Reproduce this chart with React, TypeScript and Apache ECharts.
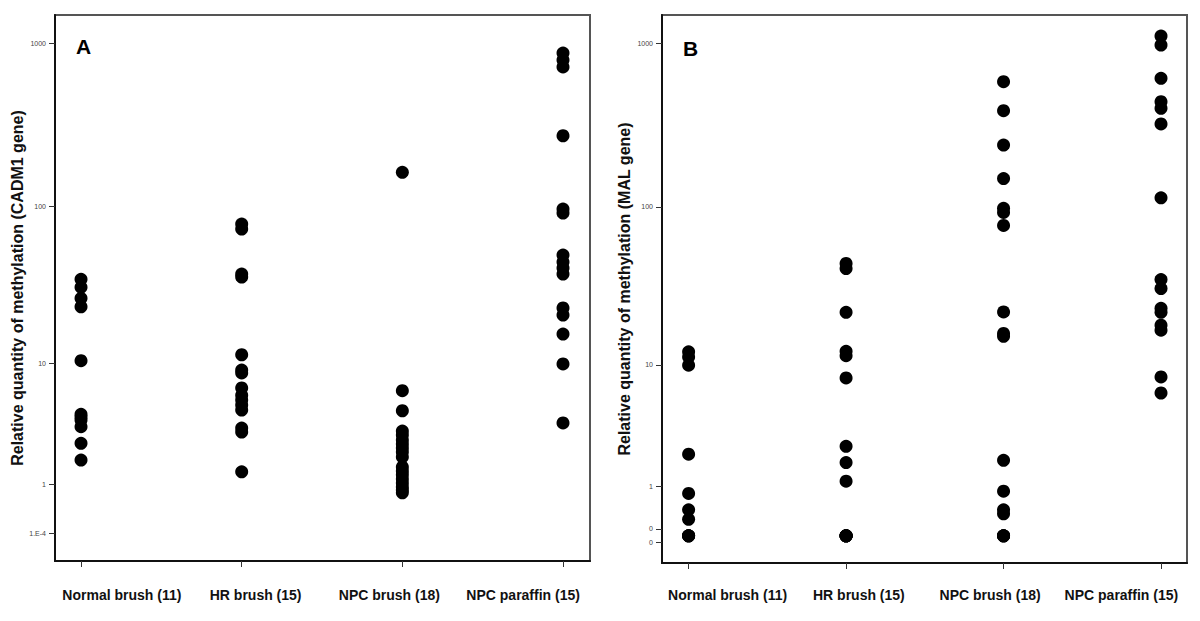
import React, { useEffect, useRef } from "react";
import * as echarts from "echarts";

const categories = ["Normal brush (11)", "HR brush (15)", "NPC brush (18)", "NPC paraffin (15)"];

// Panel A – CADM1 gene
const cadm1Normal = [34.9, 31.1, 26.5, 23.4, 10.4, 4.35, 4.15, 3.94, 3.5, 2.56, 1.81];
const cadm1HR = [77.3, 72, 37.7, 36.1, 11.4, 9.0, 8.6, 6.76, 6.0, 5.55, 5.1, 4.69, 3.41, 3.17, 1.38];
const cadm1NPCBrush = [161.5, 6.47, 4.63, 3.23, 3.0, 2.73, 2.52, 2.33, 2.15, 1.93, 1.55, 1.41, 1.28, 1.15, 1.03, 0.92, 0.84, 0.77];
const cadm1NPCParaffin = [872, 790, 717, 271, 95.8, 90.5, 49.6, 44.8, 41.1, 37.7, 23, 20.7, 15.6, 9.9, 3.74];

// Panel B – MAL gene
const malNormal = [12.2, 11.3, 9.94, 2.14, 0.81, 0.44, 0.26, 0, 0, 0, 0];
const malHR = [44.6, 41.5, 22.0, 12.3, 11.5, 8.15, 2.51, 1.79, 1.15, 0, 0, 0, 0, 0, 0];
const malNPCBrush = [583, 388, 239, 149, 97.8, 92.3, 76.8, 22.1, 16.1, 15.4, 1.88, 0.87, 0.44, 0.36, 0, 0, 0, 0];
const malNPCParaffin = [1108, 976, 612, 440, 401, 322, 113.6, 35.4, 31.1, 23.3, 22.0, 18.2, 16.9, 8.29, 6.41];

const cadm1TickValues = [0.0001, 1, 10, 100, 1000];
const cadm1TickLabels = ["1.E-4", "1", "10", "100", "1000"];
const malTickValues = [-0.085, 0.1, 1, 10, 100, 1000];
const malTickLabels = ["0", "0", "1", "10", "100", "1000"];

const tr = (v: number) => Math.log10(v + 1);

function buildData(groups: number[][]) {
  const out: number[][] = [];
  groups.forEach((g, i) => g.forEach((v) => out.push([i + 1, tr(v)])));
  return out;
}

const FONT = "'Liberation Sans', Arial, sans-serif";

function yAxis(gridIndex: number, name: string, ticks: number[], labels: string[], min: number, max: number) {
  const tv = ticks.map(tr);
  return {
    type: "value",
    gridIndex,
    min,
    max,
    name,
    nameLocation: "middle",
    nameRotate: 90,
    nameGap: 30,
    nameTextStyle: { fontFamily: FONT, fontWeight: "bold", fontSize: 16, color: "#111" },
    splitLine: { show: false },
    axisLine: { show: true, onZero: false, lineStyle: { color: "#111", width: 2 } },
    axisTick: { show: true, length: 6, lineStyle: { color: "#333", width: 1 }, customValues: tv },
    axisLabel: {
      show: true,
      margin: 9,
      fontSize: 7,
      color: "#444",
      fontFamily: FONT,
      customValues: tv,
      formatter: (val: number) => {
        let best = 0;
        for (let j = 0; j < tv.length; j++) if (Math.abs(tv[j] - val) < Math.abs(tv[best] - val)) best = j;
        return labels[best];
      },
    },
  };
}

function xValueAxis(gridIndex: number, min: number, max: number) {
  return {
    type: "value",
    gridIndex,
    position: "bottom",
    min,
    max,
    splitLine: { show: false },
    axisLine: { show: true, onZero: false, lineStyle: { color: "#111", width: 2 } },
    axisTick: { show: true, length: 6, lineStyle: { color: "#333", width: 1 }, customValues: [1, 2, 3, 4] },
    axisLabel: { show: false },
  };
}

function xLabelAxis(gridIndex: number, margin: number) {
  return {
    type: "category",
    gridIndex,
    position: "bottom",
    data: categories,
    boundaryGap: true,
    axisLine: { show: false, onZero: false },
    axisTick: { show: false },
    splitLine: { show: false },
    axisLabel: {
      show: true,
      interval: 0,
      margin,
      fontSize: 14,
      fontWeight: "bold",
      color: "#111",
      fontFamily: FONT,
    },
  };
}

export default function App() {
  const ref = useRef<HTMLDivElement>(null);
  useEffect(() => {
    if (!ref.current) return;
    const chart = echarts.init(ref.current, undefined, { renderer: "svg" });
    chart.setOption({
      animation: false,
      backgroundColor: "#ffffff",
      grid: [
        { left: 55, top: 15, width: 535, height: 546, show: true, borderColor: "#555", borderWidth: 2, containLabel: false, outerBoundsMode: "none" },
        { left: 662, top: 15, width: 525, height: 548, show: true, borderColor: "#555", borderWidth: 2, containLabel: false, outerBoundsMode: "none" },
      ],
      xAxis: [xValueAxis(0, 0.838, 4.168), xValueAxis(1, 0.831, 4.165), xLabelAxis(0, 27), xLabelAxis(1, 25)],
      yAxis: [
        yAxis(0, "Relative quantity of methylation (CADM1 gene)", cadm1TickValues, cadm1TickLabels, -0.1696, 3.174),
        yAxis(1, "Relative quantity of methylation (MAL gene)", malTickValues, malTickLabels, -0.166, 3.173),
      ],
      series: [
        {
          type: "scatter",
          xAxisIndex: 0,
          yAxisIndex: 0,
          symbolSize: 13,
          itemStyle: { color: "#000", opacity: 1 },
          data: buildData([cadm1Normal, cadm1HR, cadm1NPCBrush, cadm1NPCParaffin]),
        },
        {
          type: "scatter",
          xAxisIndex: 1,
          yAxisIndex: 1,
          symbolSize: 13,
          itemStyle: { color: "#000", opacity: 1 },
          data: buildData([malNormal, malHR, malNPCBrush, malNPCParaffin]),
        },
      ],
      graphic: [
        { type: "text", left: 76, top: 36, style: { text: "A", fontFamily: FONT, fontWeight: "bold", fontSize: 21, fill: "#000" } },
        { type: "text", left: 683, top: 38, style: { text: "B", fontFamily: FONT, fontWeight: "bold", fontSize: 21, fill: "#000" } },
      ],
    });
    return () => chart.dispose();
  }, []);
  return <div ref={ref} style={{ position: "fixed", left: 0, top: 0, width: 1200, height: 621 }} />;
}
